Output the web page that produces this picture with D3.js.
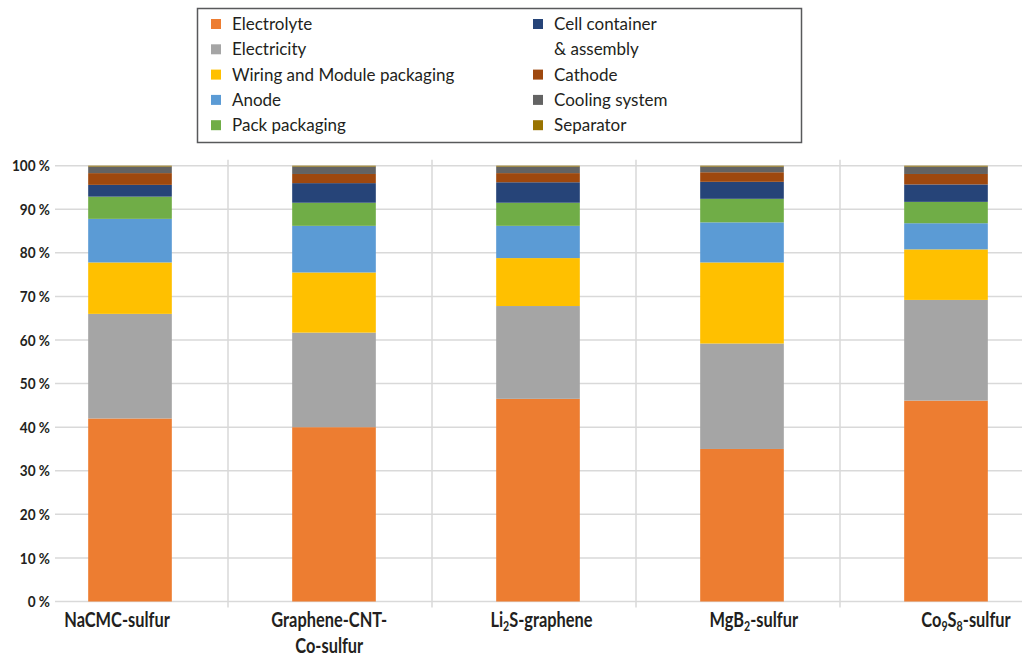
<!DOCTYPE html>
<html lang="en">
<head>
    <meta charset="UTF-8">
    <title>Cost breakdown by cathode material</title>
    <style>
        body { margin: 0; background: #ffffff; }
        svg { display: block; }
        .grid line { stroke: #d9d9d9; stroke-width: 1.5px; }
        .axis-label {
            font-family: 'Lato', 'DejaVu Sans', sans-serif;
            font-weight: bold;
            fill: #231f20;
        }
        .legend text {
            font-family: 'Lato', 'Open Sans', sans-serif;
            font-size: 17px;
            fill: #231f20;
        }
    </style>
</head>
<body>
<script src="https://d3js.org/d3.v7.min.js"></script>
<script>
    // categories (x axis)
    const categories = ['NaCMC-sulfur', 'Graphene-CNT-Co-sulfur', 'Li2S-graphene', 'MgB2-sulfur', 'Co9S8-sulfur'];
    // each label as lines of pieces: [text, isSubscript]
    const categoryLabels = [
        [[['NaCMC-sulfur', false]]],
        [[['Graphene-CNT-', false]], [['Co-sulfur', false]]],
        [[['Li', false], ['2', true], ['S-graphene', false]]],
        [[['MgB', false], ['2', true], ['-sulfur', false]]],
        [[['Co', false], ['9', true], ['S', false], ['8', true], ['-sulfur', false]]]
    ];

    // series, bottom to top (percent of total cost)
    const seriesNames = ['Electrolyte', 'Electricity', 'Wiring and Module packaging', 'Anode',
        'Pack packaging', 'Cell container & assembly', 'Cathode', 'Cooling system', 'Separator'];
    const electrolyte = [42.0, 40.0, 46.5, 35.0, 46.1];
    const electricity = [24.0, 21.7, 21.3, 24.2, 23.1];
    const wiring      = [11.8, 13.8, 11.0, 18.6, 11.6];
    const anode       = [10.0, 10.7, 7.4, 9.2, 6.0];
    const pack        = [5.1, 5.3, 5.3, 5.4, 4.9];
    const cellContainer = [2.7, 4.5, 4.7, 3.9, 4.0];
    const cathode     = [2.7, 2.1, 2.1, 2.2, 2.4];
    const cooling     = [1.5, 1.7, 1.5, 1.3, 1.7];
    const separator   = [0.2, 0.2, 0.2, 0.2, 0.2];
    const seriesValues = [electrolyte, electricity, wiring, anode, pack, cellContainer, cathode, cooling, separator];

    const colors = ['#ed7d31', '#a5a5a5', '#ffc000', '#5b9bd5', '#70ad47', '#264478', '#9e480e', '#636363', '#997300'];

    const yTicks = [0, 10, 20, 30, 40, 50, 60, 70, 80, 90, 100];

    const width = 1022, height = 664;
    const svg = d3.select('body').append('svg')
        .attr('width', width)
        .attr('height', height);

    // build rows for stacking
    const rows = categories.map((c, i) => {
        const row = { category: c };
        seriesNames.forEach((s, j) => { row[s] = seriesValues[j][i]; });
        return row;
    });
    const stacked = d3.stack().keys(seriesNames)(rows);

    const x = d3.scaleBand()
        .domain(categories)
        .range([28, 1048])
        .paddingInner(0.59)
        .paddingOuter(0.295);
    // label positions sit a little off the bar centres in the original
    const xLabel = d3.scalePoint().domain(categories).range([117, 966]);
    const y = d3.scaleLinear().domain([0, 100]).range([601.5, 165.7]);

    // horizontal gridlines
    svg.append('g').attr('class', 'grid')
        .selectAll('line').data(yTicks).enter().append('line')
        .attr('x1', 55).attr('x2', width)
        .attr('y1', d => y(d)).attr('y2', d => y(d));

    // vertical separators between categories
    const step = x.step();
    const sepX = d => x(d) - step * x.paddingInner() / 2 - 4;
    svg.append('g').attr('class', 'grid')
        .selectAll('line').data(categories.slice(1)).enter().append('line')
        .attr('x1', sepX).attr('x2', sepX)
        .attr('y1', y(100) - 6).attr('y2', y(0) + 6);

    // y tick labels (squeezed to look condensed)
    svg.append('g').selectAll('text').data(yTicks).enter().append('text')
        .attr('class', 'axis-label')
        .attr('transform', d => `translate(50,${y(d)}) scale(0.85,1)`)
        .attr('dy', '0.35em')
        .attr('text-anchor', 'end')
        .style('font-size', '16px')
        .text(d => d + ' %');

    // stacked bars
    svg.append('g').selectAll('g').data(stacked).enter().append('g')
        .attr('fill', (d, i) => colors[i])
        .selectAll('rect').data(d => d).enter().append('rect')
        .attr('x', d => x(d.data.category))
        .attr('width', x.bandwidth())
        .attr('y', d => y(d[1]))
        .attr('height', d => y(d[0]) - y(d[1]));

    // x labels
    const xl = svg.append('g').selectAll('text').data(categories).enter().append('text')
        .attr('class', 'axis-label')
        .attr('text-anchor', 'middle')
        .attr('transform', d => `translate(${xLabel(d)},0) scale(0.82,1)`)
        .style('font-size', '20px');
    xl.each(function(c, i) {
        const t = d3.select(this);
        categoryLabels[i].forEach((line, li) => {
            const ls = t.append('tspan').attr('x', 0).attr('y', 627 + li * 26);
            line.forEach(([txt, sub], k) => {
                const sp = ls.append('tspan').text(txt);
                if (sub) sp.style('font-size', '13px').attr('dy', 4);
                else if (k > 0 && line[k - 1][1]) sp.attr('dy', -4);
            });
        });
    });

    // legend
    const legend = svg.append('g').attr('class', 'legend');
    legend.append('rect')
        .attr('x', 197.5).attr('y', 8.5).attr('width', 604).attr('height', 134)
        .attr('fill', '#fff').attr('stroke', '#58595b').attr('stroke-width', 1.5);

    const legendItems = [
        { i: 0, col: 0, row: 0, lines: ['Electrolyte'] },
        { i: 1, col: 0, row: 1, lines: ['Electricity'] },
        { i: 2, col: 0, row: 2, lines: ['Wiring and Module packaging'] },
        { i: 3, col: 0, row: 3, lines: ['Anode'] },
        { i: 4, col: 0, row: 4, lines: ['Pack packaging'] },
        { i: 5, col: 1, row: 0, lines: ['Cell container', '& assembly'] },
        { i: 6, col: 1, row: 2, lines: ['Cathode'] },
        { i: 7, col: 1, row: 3, lines: ['Cooling system'] },
        { i: 8, col: 1, row: 4, lines: ['Separator'] }
    ];
    const colX = [211, 533];
    const rowY = r => 24 + r * 25.3;
    const li = legend.selectAll('g.item').data(legendItems).enter().append('g').attr('class', 'item');
    li.append('rect')
        .attr('x', d => colX[d.col]).attr('y', d => rowY(d.row) - 5)
        .attr('width', 10).attr('height', 10)
        .attr('fill', d => colors[d.i]);
    li.each(function(d) {
        d.lines.forEach((ln, k) => {
            d3.select(this).append('text')
                .attr('x', colX[d.col] + 21)
                .attr('y', rowY(d.row + k))
                .attr('dy', '0.35em')
                .text(ln);
        });
    });
</script>
</body>
</html>
